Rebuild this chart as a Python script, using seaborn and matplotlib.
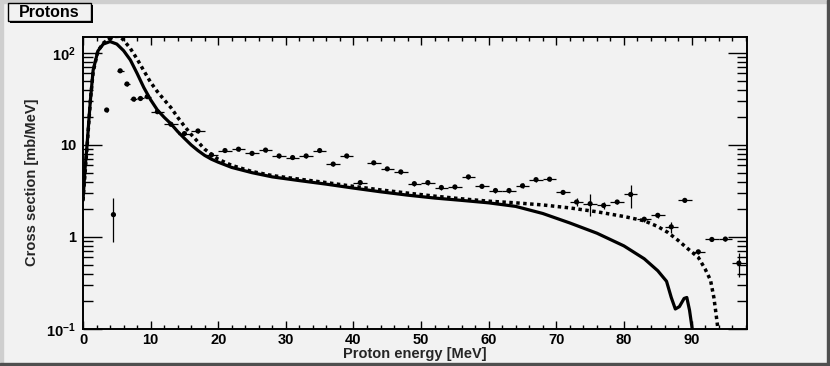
import numpy as np
import pandas as pd
import seaborn as sns
import matplotlib.pyplot as plt
from matplotlib.ticker import MultipleLocator, FixedLocator, NullFormatter
from matplotlib.patches import Rectangle

# measured spectrum (bin centre, cross section, relative error)
data_e = [3.5, 4.0, 4.5, 5.5, 6.5, 7.5, 8.5, 9.5, 11, 13, 15, 17, 19, 21, 23, 25, 27, 29, 31,
          33, 35, 37, 39, 41, 43, 45, 47, 49, 51, 53, 55, 57, 59, 61, 63, 65, 67, 69, 71,
          73, 75, 77, 79, 81, 83, 85, 87, 89, 91, 93, 95, 97]
data_xs = [24.0, 145.0, 1.75, 64.0, 46.0, 31.5, 32.0, 33.5, 23.0, 16.8, 13.3, 14.2, 7.8, 8.7,
           9.0, 8.1, 8.8, 7.6, 7.3, 7.6, 8.7, 6.2, 7.6, 3.9, 6.4, 5.5, 5.1, 3.8, 3.9, 3.45,
           3.5, 4.5, 3.55, 3.2, 3.2, 3.6, 4.2, 4.25, 3.05, 2.4, 2.3, 2.2, 2.4, 2.9, 1.56,
           1.72, 1.29, 2.5, 0.69, 0.94, 0.95, 0.52]
data_rel = [0.04, 0.04, 0.5, 0.04, 0.04, 0.04, 0.04, 0.04, 0.04, 0.04, 0.04, 0.04, 0.04, 0.04,
            0.04, 0.04, 0.04, 0.04, 0.04, 0.04, 0.04, 0.04, 0.04, 0.04, 0.04, 0.04, 0.04,
            0.05, 0.05, 0.06, 0.06, 0.05, 0.05, 0.06, 0.07, 0.06, 0.05, 0.05, 0.05, 0.1,
            0.26, 0.08, 0.05, 0.28, 0.06, 0.06, 0.14, 0.04, 0.05, 0.04, 0.04, 0.3]
data_halfwidth = [0.25, 0.25, 0.25, 0.5, 0.5, 0.5, 0.5, 0.5] + [1.0] * 44

# model 1 (solid)
solid_e = [0.0, 0.3, 0.6, 0.9, 1.1, 1.5, 2.2, 3.0, 4.0, 5.0, 6.0, 7.0, 8.0, 9.0, 10.0, 11.0,
           12.0, 13.0, 14.0, 15.0, 16.0, 17.0, 18.0, 19.0, 20.0, 22.0, 25.0, 28.0, 32.0, 36.0,
           40.0, 44.0, 48.0, 52.0, 56.0, 60.0, 64.0, 68.0, 72.0, 76.0, 80.0, 83.0, 85.0, 86.3,
           87.0, 87.6, 88.2, 88.9, 89.3, 89.7, 90.1, 90.3]
solid_xs = [2.5, 5.5, 10.0, 20.0, 31.0, 65.0, 105.0, 125.0, 133.0, 125.0, 106.0, 84.0, 60.0,
            42.0, 31.0, 24.0, 20.0, 17.0, 14.0, 11.8, 10.0, 8.7, 7.7, 7.0, 6.5, 5.7, 5.0, 4.5,
            4.1, 3.75, 3.4, 3.1, 2.85, 2.65, 2.5, 2.35, 2.15, 1.8, 1.42, 1.1, 0.8, 0.58, 0.43,
            0.33, 0.22, 0.165, 0.175, 0.215, 0.22, 0.16, 0.1, 0.08]

# model 2 (dotted)
dot_e = [0.0, 0.6, 1.1, 1.5, 2.2, 3.0, 4.0, 5.0, 5.5, 6.0, 7.0, 8.0, 9.0, 10.0, 11.0, 12.0,
         13.0, 14.0, 15.0, 16.0, 17.0, 18.0, 19.0, 20.0, 22.0, 25.0, 28.0, 32.0, 36.0, 40.0,
         44.0, 48.0, 52.0, 56.0, 60.0, 64.0, 68.0, 72.0, 76.0, 80.0, 83.0, 85.0, 86.5, 88.0,
         89.5, 91.0, 92.0, 92.8, 93.3, 93.6, 93.9, 94.0]
dot_xs = [2.5, 9.5, 31.0, 62.0, 105.0, 128.0, 145.0, 152.0, 150.0, 138.0, 112.0, 86.0, 64.0,
          48.0, 38.0, 31.0, 25.5, 20.0, 16.0, 13.0, 10.8, 9.0, 7.9, 7.0, 6.0, 5.15, 4.65,
          4.25, 3.9, 3.55, 3.25, 3.0, 2.78, 2.6, 2.45, 2.35, 2.23, 2.07, 1.88, 1.67, 1.5,
          1.3, 1.12, 0.92, 0.74, 0.6, 0.45, 0.34, 0.22, 0.15, 0.1, 0.09]

W, H = 830, 366
bg = "#f2f2f2"

sns.set_theme(style="ticks")
plt.rcParams['font.family'] = ['Liberation Sans', 'DejaVu Sans']
plt.rcParams['font.weight'] = 'bold'
plt.rcParams['mathtext.fontset'] = 'custom'
plt.rcParams['mathtext.rm'] = 'Liberation Sans:bold'
plt.rcParams['mathtext.bf'] = 'Liberation Sans:bold'
plt.rcParams['mathtext.it'] = 'Liberation Sans:bold'

fig = plt.figure(figsize=(W / 100, H / 100), dpi=100, facecolor=bg)
ax = fig.add_axes([83 / W, 1 - 329 / H, (747 - 83) / W, (329 - 36.5) / H], facecolor=bg)

solid = pd.DataFrame({"E": solid_e, "xs": solid_xs})
dotted = pd.DataFrame({"E": dot_e, "xs": dot_xs})
sns.lineplot(data=solid, x="E", y="xs", ax=ax, color="black", lw=2.3, sort=False)
sns.lineplot(data=dotted, x="E", y="xs", ax=ax, color="black", lw=2.5, sort=False,
             linestyle=(0, (1, 1)))

de = np.array(data_e)
dxs = np.array(data_xs)
ax.errorbar(de, dxs, xerr=data_halfwidth, yerr=dxs * np.array(data_rel), fmt="none",
            ecolor="black", elinewidth=0.9, capsize=0)
sns.scatterplot(x=de, y=dxs, ax=ax, color="black", s=14, edgecolor="none", zorder=5)

ax.set_yscale("log")
ax.set_xlim(0, 98.2)
ax.set_ylim(0.1, 151)

ax.xaxis.set_major_locator(MultipleLocator(10))
ax.xaxis.set_minor_locator(MultipleLocator(2))
ax.yaxis.set_major_locator(FixedLocator([0.1, 1, 10, 100]))
ax.yaxis.set_minor_locator(FixedLocator([m * 10.0 ** k for k in (-1, 0, 1, 2) for m in range(2, 10)]))
ax.yaxis.set_minor_formatter(NullFormatter())
ax.set_yticklabels([r"$10^{-1}$", "1", "10", r"$10^{2}$"])

ax.tick_params(axis="both", which="both", direction="in", top=True, right=True,
               color="black", width=1.0, labelsize=10.5, labelcolor="black")
ax.tick_params(axis="x", which="major", length=6, pad=3)
ax.tick_params(axis="x", which="minor", length=3)
ax.tick_params(axis="y", which="major", length=14, pad=5)
ax.tick_params(axis="y", which="minor", length=7)
for s in ax.spines.values():
    s.set_linewidth(1.4)
    s.set_color("black")

ax.set_xlabel("Proton energy [MeV]", fontsize=10.5, fontweight="bold", labelpad=0)
ax.set_ylabel("Cross section [mb/MeV]", fontsize=10.5, fontweight="bold", labelpad=5)


def px(x, y):
    return x / W, 1 - y / H


# canvas bevel
fig.patches.append(Rectangle(px(0, H), 3 / W, 1, transform=fig.transFigure, color="#cfcfcf"))
fig.patches.append(Rectangle(px(0, 3), 1, 3 / H, transform=fig.transFigure, color="#cfcfcf"))
fig.patches.append(Rectangle(px(W - 3, H), 3 / W, 1, transform=fig.transFigure, color="#4f4f4f"))
fig.patches.append(Rectangle(px(0, H), 1, 3 / H, transform=fig.transFigure, color="#4f4f4f"))

# title box with shadow
fig.patches.append(Rectangle(px(10, 23), 83 / W, 18 / H, transform=fig.transFigure,
                             facecolor="black", edgecolor="none"))
fig.patches.append(Rectangle(px(8, 21), 83 / W, 18 / H, transform=fig.transFigure,
                             facecolor=bg, edgecolor="black", lw=1))
fig.text(*px(49.5, 12.5), "Protons", ha="center", va="center", fontsize=11.5,
         fontweight="bold", color="black")

fig.savefig("out.png", dpi=100, facecolor=bg)
